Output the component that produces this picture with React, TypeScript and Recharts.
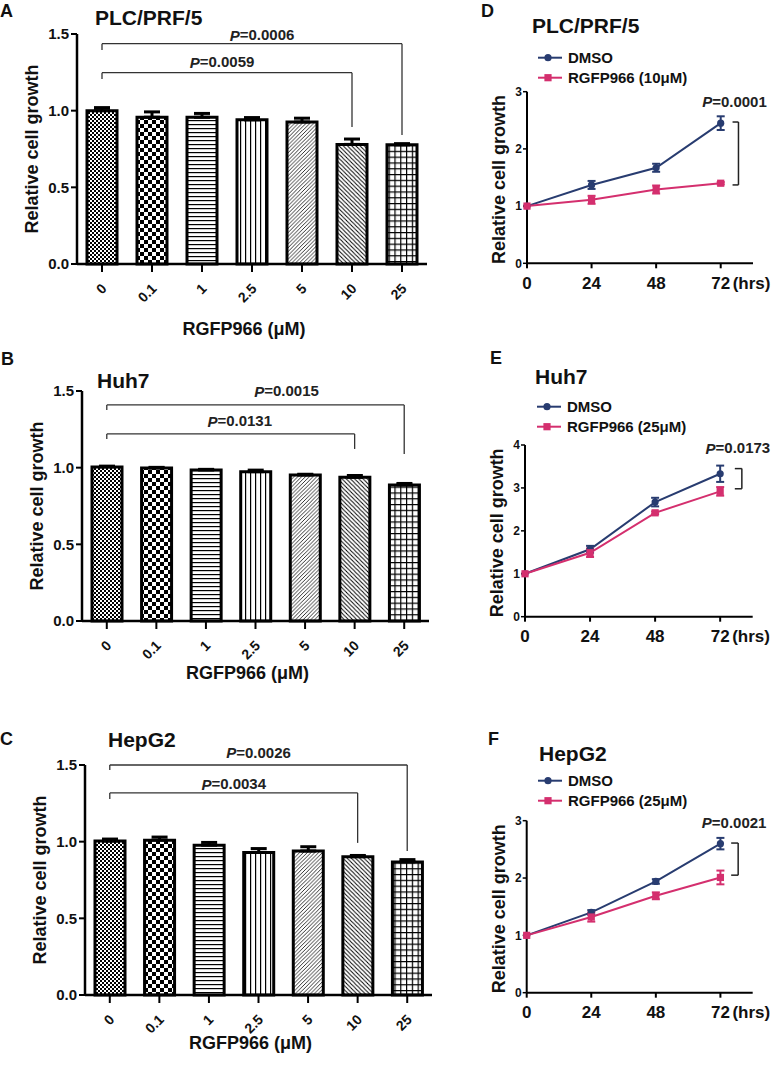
import React from 'react';
import { BarChart, Bar, Cell, XAxis, YAxis, ErrorBar, ReferenceLine, LineChart, Line } from 'recharts';

const FONT = '"Liberation Sans", Arial, Helvetica, sans-serif';
const NAVY = '#283c70';
const PINK = '#d42f6e';
const INK = '#111';

// ---------------- bar panel data ----------------
const doses = ['0', '0.1', '1', '2.5', '5', '10', '25'];
const barTicks = [0, 0.5, 1.0, 1.5];

const plcMeans = [1.0, 0.957, 0.957, 0.94, 0.926, 0.78, 0.777];
const plcErrs = [0.02, 0.035, 0.025, 0.015, 0.025, 0.035, 0.008];
const huhMeans = [1.005, 0.998, 0.985, 0.974, 0.952, 0.937, 0.887];
const huhErrs = [0.005, 0.004, 0.004, 0.01, 0.005, 0.012, 0.01];
const hepMeans = [1.004, 1.01, 0.977, 0.93, 0.939, 0.902, 0.868];
const hepErrs = [0.013, 0.02, 0.018, 0.025, 0.028, 0.008, 0.015];

const plcBrackets = [
  { p: '0.0006', from: '0', to: '25', y: 1.437, leftEnd: 1.396, rightEnd: 0.841 },
  { p: '0.0059', from: '0', to: '10', y: 1.248, leftEnd: 1.207, rightEnd: 0.894 },
];
const huhBrackets = [
  { p: '0.0015', from: '0', to: '25', y: 1.409, leftEnd: 1.376, rightEnd: 1.089 },
  { p: '0.0131', from: '0', to: '10', y: 1.22, leftEnd: 1.187, rightEnd: 1.122 },
];
const hepBrackets = [
  { p: '0.0026', from: '0', to: '25', y: 1.5, leftEnd: 1.468, rightEnd: 0.939 },
  { p: '0.0034', from: '0', to: '10', y: 1.318, leftEnd: 1.279, rightEnd: 0.992 },
];

// ---------------- time course data ----------------
const hours = [0, 24, 48, 72];
const seriesNames = ['DMSO', 'RGFP966'];

const plcDmso = [1.0, 1.37, 1.67, 2.45];
const plcDmsoErr = [0, 0.07, 0.07, 0.12];
const plcRgfp = [1.0, 1.11, 1.29, 1.4];
const plcRgfpErr = [0, 0.07, 0.07, 0.02];

const huhDmso = [1.0, 1.57, 2.67, 3.33];
const huhDmsoErr = [0, 0.08, 0.1, 0.19];
const huhRgfp = [1.0, 1.49, 2.42, 2.92];
const huhRgfpErr = [0, 0.1, 0.03, 0.1];

const hepDmso = [1.0, 1.4, 1.94, 2.6];
const hepDmsoErr = [0, 0.04, 0.04, 0.1];
const hepRgfp = [1.0, 1.32, 1.69, 2.01];
const hepRgfpErr = [0, 0.08, 0.06, 0.12];

const plcTimeBracket = { p: '0.0001', x: 78.6, xTick: 76.4, low: 1.37, high: 2.47 };
const huhTimeBracket = { p: '0.0173', x: 80.0, xTick: 77.4, low: 2.98, high: 3.45 };
const hepTimeBracket = { p: '0.0021', x: 78.6, xTick: 76.0, low: 2.05, high: 2.61 };

// ---------------- helpers ----------------
const Patterns = ({ id }: { id: string }) => (
  <defs>
    <pattern id={`${id}-p0`} patternUnits="userSpaceOnUse" width={4} height={4}>
      <rect width={4} height={4} fill="#fff" />
      <rect width={2} height={2} fill="#000" />
      <rect x={2} y={2} width={2} height={2} fill="#000" />
    </pattern>
    <pattern id={`${id}-p1`} patternUnits="userSpaceOnUse" width={8} height={8}>
      <rect width={8} height={8} fill="#fff" />
      <rect width={4} height={4} fill="#000" />
      <rect x={4} y={4} width={4} height={4} fill="#000" />
    </pattern>
    <pattern id={`${id}-p2`} patternUnits="userSpaceOnUse" width={4} height={4}>
      <rect width={4} height={4} fill="#fff" />
      <rect y={0} width={4} height={1.2} fill="#000" />
    </pattern>
    <pattern id={`${id}-p3`} patternUnits="userSpaceOnUse" width={5} height={5}>
      <rect width={5} height={5} fill="#fff" />
      <rect x={0} width={1.2} height={5} fill="#000" />
    </pattern>
    <pattern id={`${id}-p4`} patternUnits="userSpaceOnUse" width={3.8} height={3.8}>
      <rect width={3.8} height={3.8} fill="#fff" />
      <path d="M-0.95,0.95 L0.95,-0.95 M0,3.8 L3.8,0 M2.85,4.75 L4.75,2.85" stroke="#000" strokeWidth={0.8} />
    </pattern>
    <pattern id={`${id}-p5`} patternUnits="userSpaceOnUse" width={4.2} height={4.2}>
      <rect width={4.2} height={4.2} fill="#fff" />
      <path d="M-1.05,3.15 L1.05,5.25 M0,0 L4.2,4.2 M3.15,-1.05 L5.25,1.05" stroke="#000" strokeWidth={1} />
    </pattern>
    <pattern id={`${id}-p6`} patternUnits="userSpaceOnUse" width={5.8} height={5.8}>
      <rect width={5.8} height={5.8} fill="#fff" />
      <path d="M0.6,0 L0.6,5.8 M0,0.6 L5.8,0.6" stroke="#000" strokeWidth={1.2} />
    </pattern>
  </defs>
);

const RotTick = (props: any) => {
  const { x, y, payload } = props;
  const ax = x + 2;
  const ay = y + 12;
  return (
    <text
      x={ax}
      y={ay}
      transform={`rotate(-45 ${ax} ${ay})`}
      textAnchor="end"
      dy="0.35em"
      fontSize={14}
      fontWeight="bold"
      fontFamily={FONT}
      fill={INK}
    >
      {payload.value}
    </text>
  );
};

const PText = ({ x, y, value, size }: any) => (
  <text x={x} y={y} textAnchor="middle" dominantBaseline="central" fontSize={size} fontWeight="bold" fontFamily={FONT} fill="#222">
    <tspan fontStyle="italic">P</tspan>={value}
  </text>
);

type BarPanelProps = {
  id: string;
  means: number[];
  errs: number[];
  brackets: any[];
  labelShift: number[][];
  top: number;
  plotLeft: number;
  plotTop: number;
  plotBottom: number;
  plotRight: number;
  xTitleDy: number;
};

function BarPanel(pr: BarPanelProps) {
  const data = doses.map((d, i) => ({ dose: d, value: pr.means[i], err: [0, pr.errs[i]] }));
  const width = 440;
  const xAxisH = 80;
  const height = pr.plotBottom - pr.top + xAxisH;
  const lineStyle = { stroke: '#333', strokeWidth: 1.3 };
  return (
    <div style={{ position: 'absolute', left: 0, top: pr.top, width, height }}>
      <BarChart
        width={width}
        height={height}
        data={data}
        margin={{ top: pr.plotTop - pr.top, right: width - pr.plotRight, left: 0, bottom: 0 }}
        barSize={30}
      >
        <Patterns id={pr.id} />
        <XAxis
          dataKey="dose"
          height={xAxisH}
          interval={0}
          axisLine={{ stroke: '#000', strokeWidth: 2.5 }}
          tickLine={{ stroke: '#000', strokeWidth: 2 }}
          tickSize={8}
          tick={<RotTick />}
          label={{
            content: (p: any) => {
              const vb = p.viewBox;
              return (
                <text x={vb.x + vb.width / 2 - 8} y={vb.y + pr.xTitleDy} textAnchor="middle" dominantBaseline="central" fontSize={18} fontWeight="bold" fontFamily={FONT} fill={INK}>
                  RGFP966 (μM)
                </text>
              );
            },
          }}
        />
        <YAxis
          width={pr.plotLeft}
          domain={[0, 1.5]}
          ticks={barTicks}
          tickFormatter={(v: number) => v.toFixed(1)}
          axisLine={{ stroke: '#000', strokeWidth: 2.5 }}
          tickLine={{ stroke: '#000', strokeWidth: 2 }}
          tickSize={6}
          tickMargin={2}
          tick={{ fontSize: 15, fontWeight: 'bold', fontFamily: FONT, fill: INK }}
          label={{
            content: (p: any) => {
              const vb = p.viewBox;
              const cx = vb.x + vb.width - 45;
              const cy = vb.y + vb.height / 2;
              return (
                <text x={cx} y={cy} transform={`rotate(-90 ${cx} ${cy})`} textAnchor="middle" dominantBaseline="central" fontSize={18} fontWeight="bold" fontFamily={FONT} fill={INK}>
                  Relative cell growth
                </text>
              );
            },
          }}
        />
        <Bar dataKey="value" stroke="#000" strokeWidth={3} isAnimationActive={false}>
          {data.map((d, i) => (
            <Cell key={d.dose} fill={`url(#${pr.id}-p${i})`} />
          ))}
          <ErrorBar dataKey="err" width={8} stroke="#000" strokeWidth={3} direction="y" />
        </Bar>
        {pr.brackets.map((b, i) => [
          <ReferenceLine key={`l${i}`} ifOverflow="visible" segment={[{ x: b.from, y: b.y }, { x: b.from, y: b.leftEnd }]} {...lineStyle} />,
          <ReferenceLine key={`r${i}`} ifOverflow="visible" segment={[{ x: b.to, y: b.y }, { x: b.to, y: b.rightEnd }]} {...lineStyle} />,
          <ReferenceLine
            key={`h${i}`}
            ifOverflow="visible"
            segment={[{ x: b.from, y: b.y }, { x: b.to, y: b.y }]}
            {...lineStyle}
            label={{
              content: (p: any) => {
                const vb = p.viewBox;
                return <PText x={vb.x + vb.width / 2 + pr.labelShift[i][0]} y={vb.y + pr.labelShift[i][1]} value={b.p} size={15} />;
              },
            }}
          />,
        ])}
      </BarChart>
    </div>
  );
}

const CircleDot = (p: any) => <circle key={`c${p.index}`} cx={p.cx} cy={p.cy} r={3.6} fill={NAVY} />;
const SquareDot = (p: any) => <rect key={`s${p.index}`} x={p.cx - 3.6} y={p.cy - 3.6} width={7.2} height={7.2} fill={PINK} />;

const HourTick = (props: any) => {
  const { x, y, payload } = props;
  const last = payload.value === hours[hours.length - 1];
  return (
    <g>
      <text x={x} y={y + 13} textAnchor="middle" dominantBaseline="central" fontSize={17} fontWeight="bold" fontFamily={FONT} fill={INK}>
        {payload.value}
      </text>
      {last && (
        <text x={x + 12} y={y + 13} textAnchor="start" dominantBaseline="central" fontSize={17} fontWeight="bold" fontFamily={FONT} fill={INK}>
          (hrs)
        </text>
      )}
    </g>
  );
};

type LinePanelProps = {
  dmso: number[];
  dmsoErr: number[];
  rgfp: number[];
  rgfpErr: number[];
  yMax: number;
  bracket: any;
  top: number;
  plotLeft: number;
  plotTop: number;
  plotBottom: number;
  plotRight: number;
};

function LinePanel(pr: LinePanelProps) {
  const left = 480;
  const width = 291;
  const xAxisH = 45;
  const height = pr.plotBottom - pr.top + xAxisH;
  const data = hours.map((h, i) => ({ h, d: pr.dmso[i], de: pr.dmsoErr[i], r: pr.rgfp[i], re: pr.rgfpErr[i] }));
  const yTicks = Array.from({ length: pr.yMax + 1 }, (_, i) => i);
  const b = pr.bracket;
  const ls = { stroke: '#222', strokeWidth: 1.5 };
  return (
    <div style={{ position: 'absolute', left, top: pr.top, width, height }}>
      <LineChart
        width={width}
        height={height}
        data={data}
        margin={{ top: pr.plotTop - pr.top, right: left + width - pr.plotRight, left: 0, bottom: 0 }}
      >
        <XAxis
          dataKey="h"
          type="number"
          domain={[0, 84]}
          ticks={hours}
          height={xAxisH}
          axisLine={{ stroke: '#000', strokeWidth: 2 }}
          tickLine={{ stroke: '#000', strokeWidth: 2 }}
          tickSize={5}
          tickMargin={2}
          tick={<HourTick />}
        />
        <YAxis
          width={pr.plotLeft - left}
          domain={[0, pr.yMax]}
          ticks={yTicks}
          axisLine={{ stroke: '#000', strokeWidth: 2 }}
          tickLine={{ stroke: '#000', strokeWidth: 1.5 }}
          tickSize={4}
          tickMargin={1}
          tick={{ fontSize: 12, fontWeight: 'bold', fontFamily: FONT, fill: INK }}
          label={{
            content: (p: any) => {
              const vb = p.viewBox;
              const cx = vb.x + vb.width - 28;
              const cy = vb.y + vb.height / 2 + 2;
              return (
                <text x={cx} y={cy} transform={`rotate(-90 ${cx} ${cy})`} textAnchor="middle" dominantBaseline="central" fontSize={18} fontWeight="bold" fontFamily={FONT} fill={INK}>
                  Relative cell growth
                </text>
              );
            },
          }}
        />
        <Line dataKey="d" stroke={NAVY} strokeWidth={2} dot={CircleDot} isAnimationActive={false}>
          <ErrorBar dataKey="de" width={4} stroke={NAVY} strokeWidth={2} direction="y" />
        </Line>
        <Line dataKey="r" stroke={PINK} strokeWidth={2} dot={SquareDot} isAnimationActive={false}>
          <ErrorBar dataKey="re" width={4} stroke={PINK} strokeWidth={2} direction="y" />
        </Line>
        <ReferenceLine ifOverflow="visible" segment={[{ x: b.xTick, y: b.high }, { x: b.x, y: b.high }]} {...ls} />
        <ReferenceLine ifOverflow="visible" segment={[{ x: b.xTick, y: b.low }, { x: b.x, y: b.low }]} {...ls} />
        <ReferenceLine
          ifOverflow="visible"
          segment={[{ x: b.x, y: b.low }, { x: b.x, y: b.high }]}
          {...ls}
          label={{
            content: (p: any) => {
              const vb = p.viewBox;
              return <PText x={vb.x - 4} y={vb.y - 21} value={b.p} size={15} />;
            },
          }}
        />
      </LineChart>
    </div>
  );
}

const Legend2 = ({ x, y, names }: { x: number; y: number; names: string[] }) => (
  <g>
    <line x1={x} x2={x + 24} y1={y} y2={y} stroke={NAVY} strokeWidth={2} />
    <circle cx={x + 10} cy={y} r={3.6} fill={NAVY} />
    <text x={x + 30} y={y} dominantBaseline="central" fontSize={15} fontWeight="bold" fontFamily={FONT} fill={INK}>{names[0]}</text>
    <line x1={x} x2={x + 24} y1={y + 20} y2={y + 20} stroke={PINK} strokeWidth={2} />
    <rect x={x + 10 - 3.6} y={y + 20 - 3.6} width={7.2} height={7.2} fill={PINK} />
    <text x={x + 30} y={y + 20} dominantBaseline="central" fontSize={15} fontWeight="bold" fontFamily={FONT} fill={INK}>{names[1]}</text>
  </g>
);

const Heading = ({ x, y, text, size }: any) => (
  <text x={x} y={y} dominantBaseline="central" fontSize={size} fontWeight="bold" fontFamily={FONT} fill={INK}>{text}</text>
);

export default function App() {
  return (
    <div style={{ position: 'absolute', left: 0, top: 0, width: 771, height: 1065, background: '#fff', overflow: 'hidden' }}>
      <BarPanel id="pa" means={plcMeans} errs={plcErrs} brackets={plcBrackets} labelShift={[[10, -9], [-5, -11]]} top={0} plotLeft={77} plotTop={34} plotBottom={264} plotRight={427} xTitleDy={65} />
      <BarPanel id="pb" means={huhMeans} errs={huhErrs} brackets={huhBrackets} labelShift={[[31, -14], [9, -13]]} top={330} plotLeft={82} plotTop={391} plotBottom={621} plotRight={429} xTitleDy={52} />
      <BarPanel id="pc" means={hepMeans} errs={hepErrs} brackets={hepBrackets} labelShift={[[0, -13], [0, -9]]} top={700} plotLeft={85} plotTop={765} plotBottom={995} plotRight={432} xTitleDy={48} />

      <LinePanel dmso={plcDmso} dmsoErr={plcDmsoErr} rgfp={plcRgfp} rgfpErr={plcRgfpErr} yMax={3} bracket={plcTimeBracket} top={0} plotLeft={527} plotTop={91.7} plotBottom={263.3} plotRight={753} />
      <LinePanel dmso={huhDmso} dmsoErr={huhDmsoErr} rgfp={huhRgfp} rgfpErr={huhRgfpErr} yMax={4} bracket={huhTimeBracket} top={330} plotLeft={525} plotTop={445} plotBottom={616.7} plotRight={752.7} />
      <LinePanel dmso={hepDmso} dmsoErr={hepDmsoErr} rgfp={hepRgfp} rgfpErr={hepRgfpErr} yMax={3} bracket={hepTimeBracket} top={700} plotLeft={526.7} plotTop={820.7} plotBottom={992.7} plotRight={752.7} />

      <svg width={771} height={1065} style={{ position: 'absolute', left: 0, top: 0, pointerEvents: 'none' }}>
        <Heading x={0} y={11} text="A" size={18} />
        <Heading x={1} y={359} text="B" size={18} />
        <Heading x={0} y={738.5} text="C" size={18} />
        <Heading x={481} y={11} text="D" size={18} />
        <Heading x={490} y={358} text="E" size={18} />
        <Heading x={488} y={738.5} text="F" size={18} />

        <Heading x={95} y={17} text="PLC/PRF/5" size={21} />
        <Heading x={97} y={380} text="Huh7" size={21} />
        <Heading x={108} y={739} text="HepG2" size={21} />
        <Heading x={532} y={25} text="PLC/PRF/5" size={21} />
        <Heading x={535} y={376} text="Huh7" size={21} />
        <Heading x={539} y={753} text="HepG2" size={21} />

        <Legend2 x={538} y={57.7} names={[seriesNames[0], `${seriesNames[1]} (10μM)`]} />
        <Legend2 x={537} y={406.7} names={[seriesNames[0], `${seriesNames[1]} (25μM)`]} />
        <Legend2 x={538} y={780.7} names={[seriesNames[0], `${seriesNames[1]} (25μM)`]} />
      </svg>
    </div>
  );
}
